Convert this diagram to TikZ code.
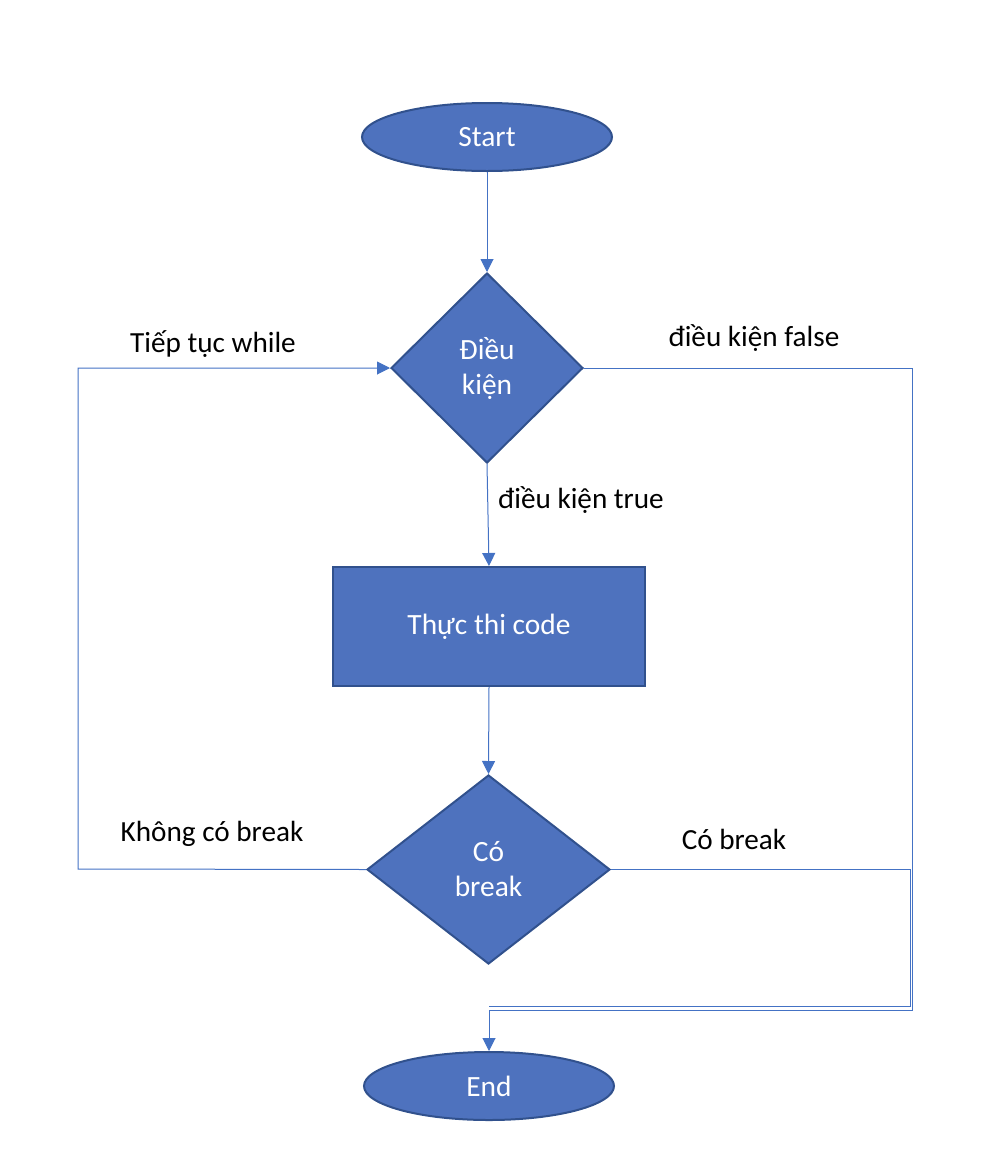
\documentclass[tikz,border=0pt]{standalone}
\usepackage{fontspec}
\setmainfont{Carlito}
\usetikzlibrary{shapes.geometric,arrows.meta}
\definecolor{ofblue}{HTML}{4E72BE}
\definecolor{oline}{HTML}{4472C4}
\definecolor{ofedge}{HTML}{31518D}
\tikzset{
  shapebox/.style={fill=ofblue,draw=ofedge,line width=1pt,text=white,font=\fontsize{14.7}{17.5}\selectfont,inner sep=0pt,align=center},
  conn/.style={draw=oline,line width=0.5pt},
  arr/.style={conn,-{Triangle[length=6.5pt,width=6.5pt]}},
  lbl/.style={font=\fontsize{14.6}{17}\selectfont,text=black}
}
\begin{document}
\begin{tikzpicture}[x=0.5pt,y=-0.5pt]
\useasboundingbox (0,0) rectangle (1000,1162);
\node[shapebox,ellipse,minimum width=125pt,minimum height=34pt] (start) at (487,137) {Start};
\node[shapebox,diamond,minimum width=96pt,minimum height=95pt] (cond) at (487,368) {Điều\\kiện};
\node[shapebox,rectangle,minimum width=156pt,minimum height=59.5pt] (exec) at (489,626.5) {Thực thi code};
\node[shapebox,diamond,minimum width=121.5pt,minimum height=94.5pt] (brk) at (488.5,869.5) {Có\\break};
\node[shapebox,ellipse,minimum width=125pt,minimum height=34pt] (end) at (489,1086) {End};
\coordinate (lt) at (78,869);
\coordinate (lb) at (78,368);
\coordinate (rt) at (912,368);
\coordinate (rb) at (912,1010);
\coordinate (rt2) at (910,869.5);
\coordinate (rb2) at (910,1006);
\draw[arr] (start.south) -- (cond.north);
\draw[arr] (cond.south) -- (exec.north);
\draw[arr] (exec.south) -- (brk.north);
\draw[arr] (brk.west) -- (lt) -- (lb) -- (cond.west);
\draw[conn] (brk.east) -- (rt2) -- (rb2) -- (end.north |- rb2);
\draw[arr] (cond.east) -- (rt) -- (rb) -- (end.north |- rb) -- (end.north);
\node[lbl] (l1) at (213,344) {Tiếp tục while};
\node[lbl] (l2) at (754,338) {điều kiện false};
\node[lbl] (l3) at (581,500) {điều kiện true};
\node[lbl] (l4) at (212,834) {Không có break};
\node[lbl] (l5) at (734,839) {Có break};
\end{tikzpicture}
\end{document}
